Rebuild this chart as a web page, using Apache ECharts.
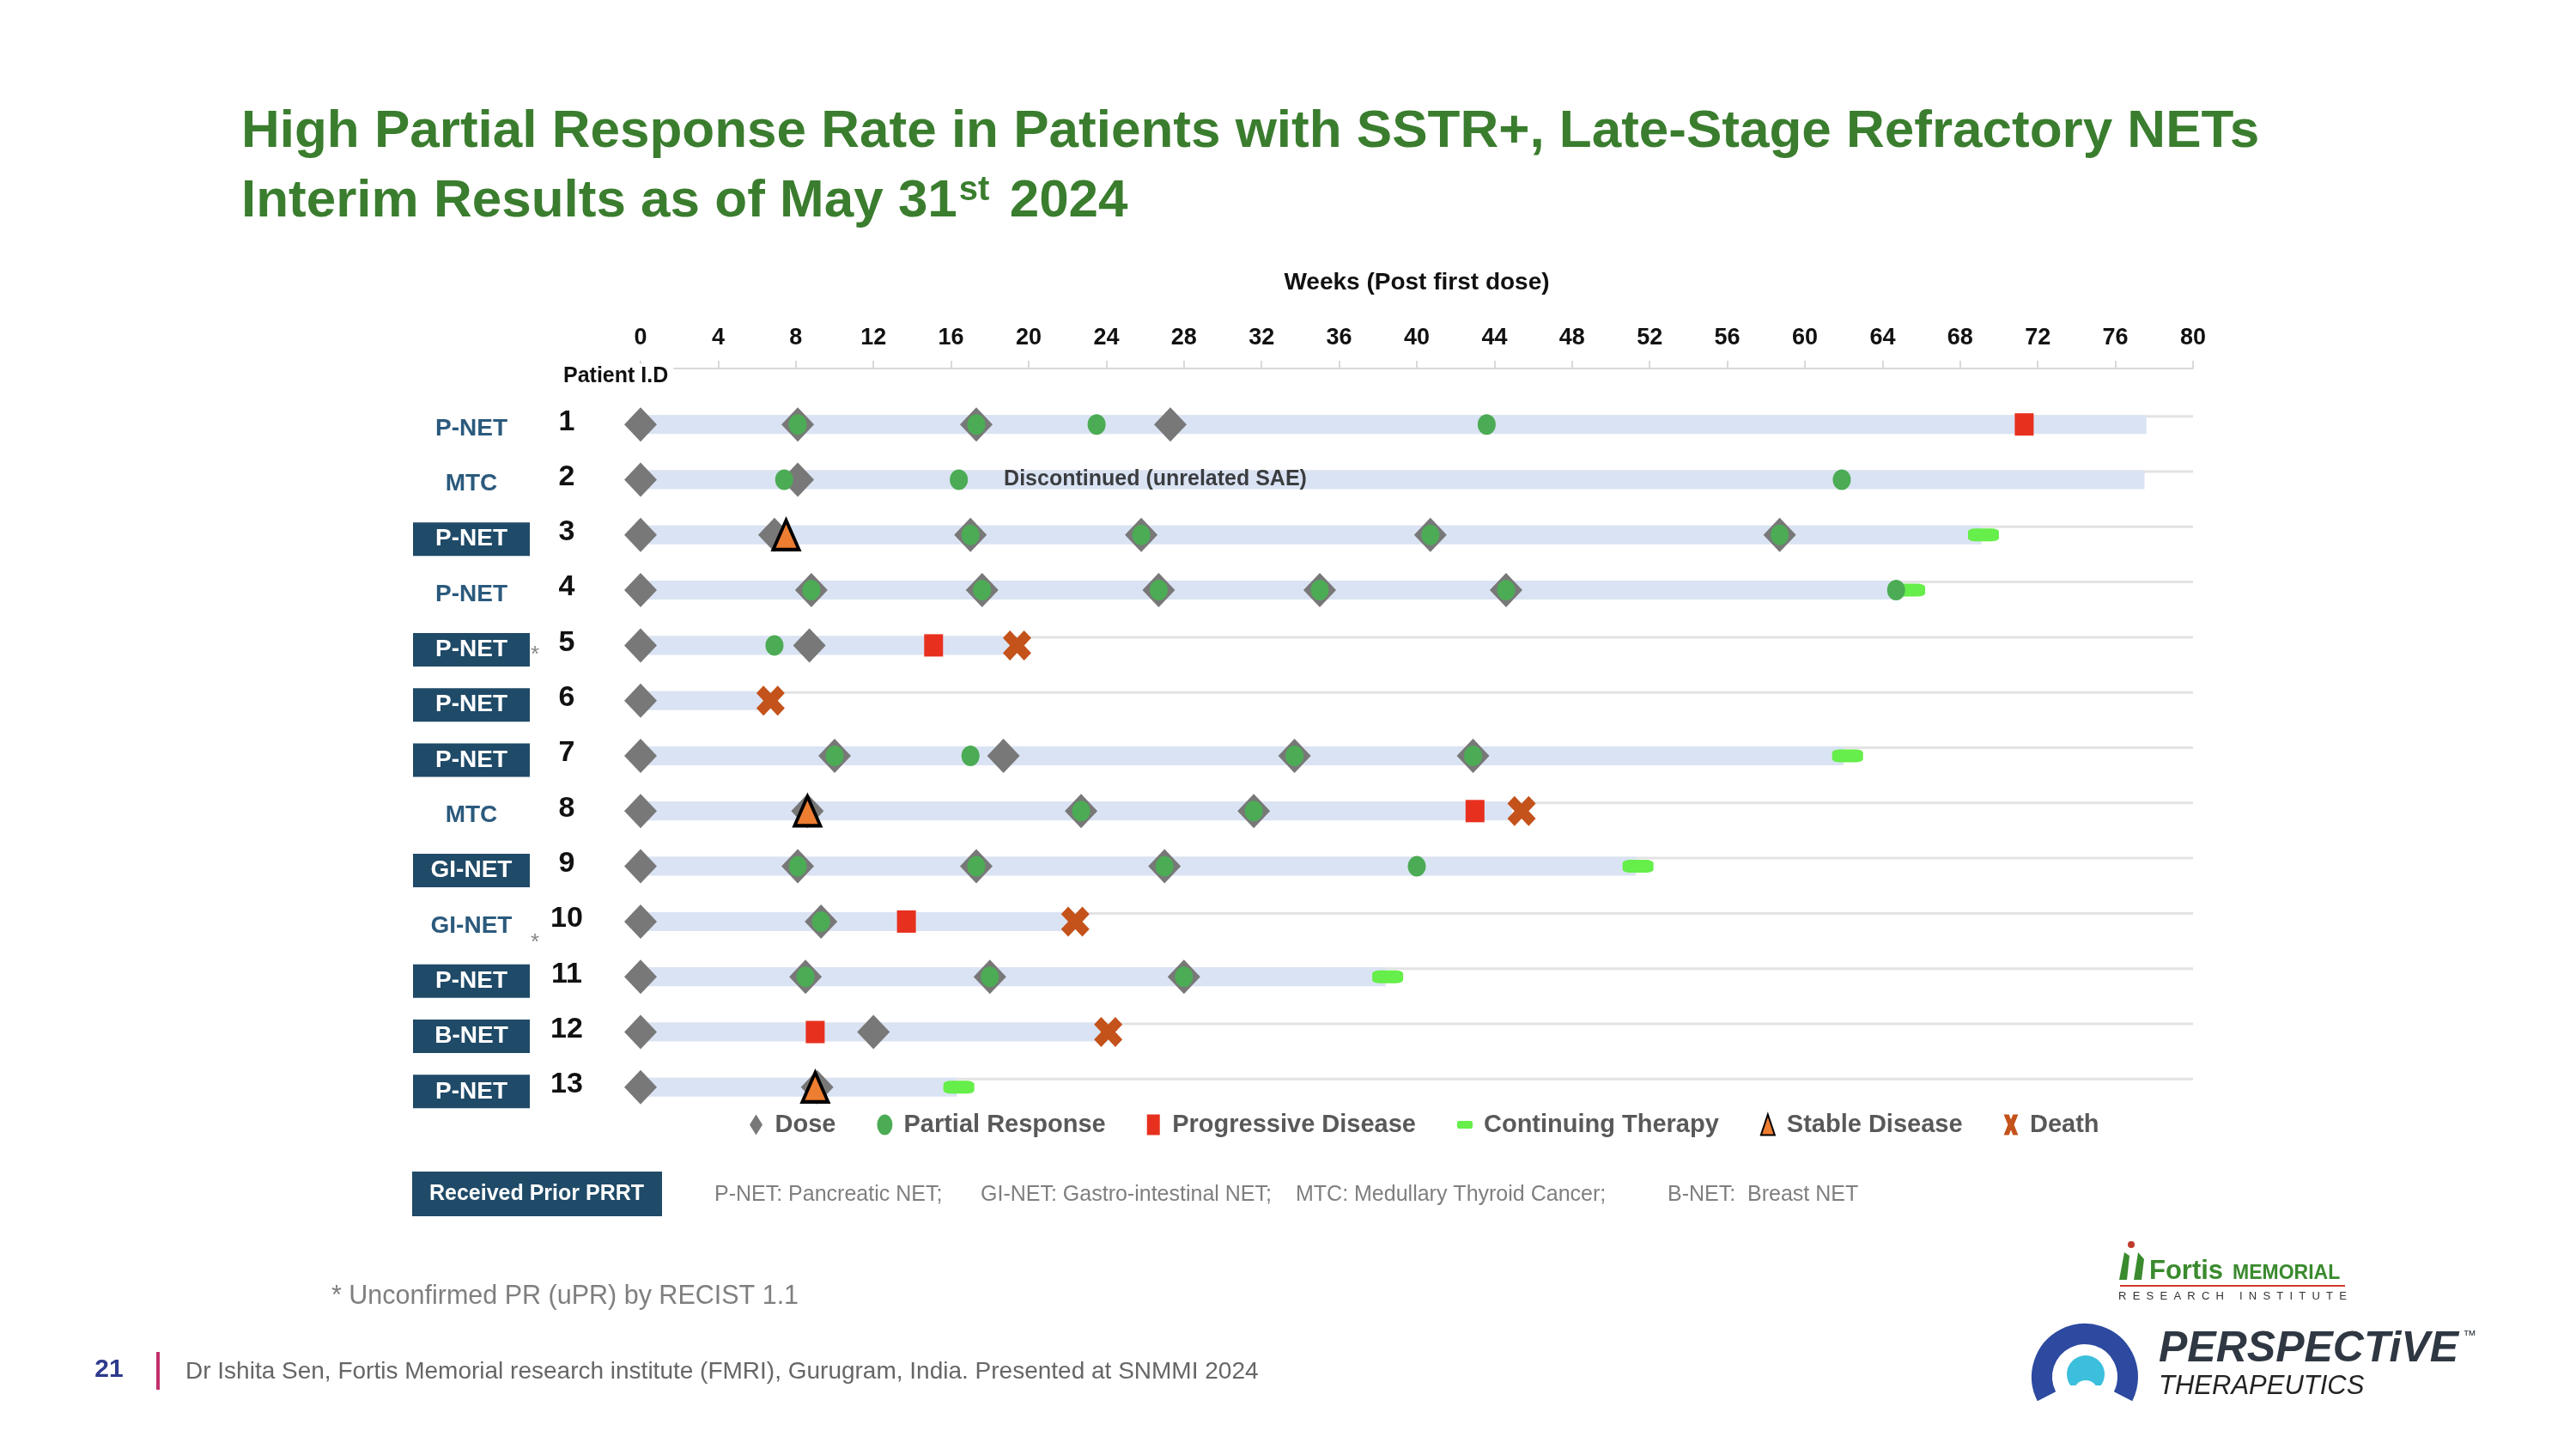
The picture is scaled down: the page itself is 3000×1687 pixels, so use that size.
<!DOCTYPE html>
<html><head><meta charset="utf-8">
<script src="https://cdn.jsdelivr.net/npm/echarts@6/dist/echarts.min.js"></script>
<style>html,body{margin:0;padding:0;background:#fff}#c{width:3000px;height:1687px}</style>
</head><body><div id="c"></div>
<script>
// ---------- data ----------
const patientIds = ['1','2','3','4','5','6','7','8','9','10','11','12','13'];
const tumorTypes = ['P-NET','MTC','P-NET','P-NET','P-NET','P-NET','P-NET','MTC','GI-NET','GI-NET','P-NET','B-NET','P-NET'];
const priorPRRT = [false,false,true,false,true,true,true,false,true,false,true,true,true];
const unconfirmedPR = [false,false,false,false,true,false,false,false,false,true,false,false,false];
const weeksOnStudy = [77.6,77.5,69.1,64.8,19.2,6.7,62.0,44.9,51.3,22.4,38.4,24.1,16.3];
const doseWeeks = [[0,8.1,17.3,27.3],[0,8.1],[0,6.9,17.0,25.8,40.7,58.7],[0,8.8,17.6,26.7,35.0,44.6],[0,8.7],[0],[0,10.0,18.7,33.7,42.9],[0,8.6,22.7,31.6],[0,8.1,17.3,27.0],[0,9.3],[0,8.5,18.0,28.0],[0,12.0],[0,9.1]];
const partialResponseWeeks = [[8.1,17.3,23.5,43.6],[7.4,16.4,61.9],[17.0,25.8,40.7,58.7],[8.8,17.6,26.7,35.0,44.6,64.7],[6.9],[],[10.0,17.0,33.7,42.9],[22.7,31.6],[8.1,17.3,27.0,40.0],[9.3],[8.5,18.0,28.0],[],[]];
const progressiveDiseaseWeeks = [[71.3],[],[],[],[15.1],[],[],[43.0],[],[13.7],[],[9.0],[]];
const continuingTherapyWeeks = [[],[],[69.2],[65.4],[],[],[62.2],[],[51.4],[],[38.5],[],[16.4]];
const stableDiseaseWeeks = [[],[],[7.5],[],[],[],[],[8.6],[],[],[],[],[9.0]];
const deathWeeks = [[],[],[],[],[19.4],[6.7],[],[45.4],[],[22.4],[],[24.1],[]];
const annotations = [{row:1, week:18.7, text:'Discontinued (unrelated SAE)'}];
const axisMin = 0, axisMax = 80, axisStep = 4;

// ---------- helpers ----------
const toPoints = arr => arr.flatMap((ws, i) => ws.map(w => [w, i]));
const FONT = 'Liberation Sans, Arial, sans-serif';
const DEATH_PATH = 'path://M25,0 L50,25 L75,0 L100,25 L75,50 L100,75 L75,100 L50,75 L25,100 L0,75 L25,50 L0,25 Z';

const chart = echarts.init(document.getElementById('c'), null, {renderer:'canvas'});

const option = {
  backgroundColor: '#ffffff',
  animation: false,
  textStyle: {fontFamily: FONT},
  title: {
    left: 281, top: 113, padding: 0,
    text: '{t|High Partial Response Rate in Patients with SSTR+, Late-Stage Refractory NETs}\n{t|Interim Results as of May 31}{sup|st}{t| }{y|2024}',
    textStyle: {
      rich: {
        t: {fontSize: 62, fontWeight: 'bold', color: '#3a7d2e', fontFamily: FONT, lineHeight: 81},
        y: {fontSize: 62, fontWeight: 'bold', color: '#3a7d2e', fontFamily: FONT, lineHeight: 81, padding: [0,0,0,6]},
        sup: {fontSize: 40, fontWeight: 'bold', color: '#3a7d2e', fontFamily: FONT, lineHeight: 81, padding: [0,0,26,2]}
      }
    }
  },
  grid: {left: 746, right: 446, top: 462, height: 836, containLabel: false},
  xAxis: {
    type: 'value', position: 'top', offset: 33,
    min: axisMin, max: axisMax, interval: axisStep,
    name: 'Weeks (Post first dose)', nameLocation: 'middle', nameGap: 86,
    nameTextStyle: {fontSize: 28, fontWeight: 'bold', color: '#111', fontFamily: FONT},
    axisLine: {show: true, lineStyle: {color: '#d9d9d9', width: 2}},
    axisTick: {show: true, length: 9, lineStyle: {color: '#d9d9d9', width: 2}},
    axisLabel: {fontSize: 27, fontWeight: 'bold', color: '#111', margin: 22, fontFamily: FONT},
    splitLine: {show: false}
  },
  yAxis: {
    type: 'category', data: patientIds, inverse: true, boundaryGap: true,
    axisLine: {show: false}, axisTick: {show: false}, splitLine: {show: false},
    axisLabel: {
      margin: 55,
      padding: [10,0,0,0],
      formatter: (v, i) => {
        const box = priorPRRT[i] ? 'box' : 'plain';
        const star = unconfirmedPR[i] ? (i === 4 ? '{starA|*}' : '{starB|*}') : '{gap| }';
        return '{' + box + '|' + tumorTypes[i] + '}' + star + '{num|' + v + '}';
      },
      rich: {
        box: {width: 136, height: 39, lineHeight: 39, backgroundColor: '#1f4a68', color: '#ffffff', fontSize: 28, fontWeight: 'bold', align: 'center', fontFamily: FONT},
        plain: {width: 136, height: 39, lineHeight: 39, color: '#2b5a7d', fontSize: 28, fontWeight: 'bold', align: 'center', fontFamily: FONT},
        gap: {width: 12, fontSize: 20},
        starA: {width: 12, fontSize: 26, color: '#888', align: 'left', padding: [12,0,0,0], fontFamily: FONT},
        starB: {width: 12, fontSize: 26, color: '#888', align: 'center', padding: [40,0,0,0], fontFamily: FONT},
        num: {width: 62, fontSize: 34, fontWeight: 'bold', color: '#111', align: 'left', padding: [0,0,16,0], fontFamily: FONT}
      }
    }
  },
  legend: {
    data: [
      {name: 'Dose', icon: 'path://M5,0 L10,8 L5,16 L0,8 Z'},
      {name: 'Partial Response', icon: 'path://M10,0 A9,12 0 1,1 9.99,0 Z'},
      {name: 'Progressive Disease', icon: 'path://M0,0 H10 V16 H0 Z'},
      {name: 'Continuing Therapy', icon: 'path://M3,0 H21 A3,3 0 0 1 24,3 V9 A3,3 0 0 1 21,12 H3 A3,3 0 0 1 0,9 V3 A3,3 0 0 1 3,0 Z'},
      {name: 'Stable Disease', icon: 'path://M6,0 L12,18 L0,18 Z'},
      {name: 'Death', icon: 'path://M0,0 H5 L7,5 L9,0 H14 L10,10 L14,20 H9 L7,15 L5,20 H0 L4,10 Z'}
    ],
    left: 868, top: 1290, itemWidth: 18, itemHeight: 24, itemGap: 48,
    selectedMode: false,
    textStyle: {fontSize: 29, fontWeight: 'bold', color: '#595959', fontFamily: FONT, padding: [0,0,0,8]}
  },
  series: [
    {
      name: 'track', type: 'bar', data: patientIds.map(() => axisMax), barWidth: 3, barGap: '-100%',
      itemStyle: {color: '#e3e3e3'}, z: 1, silent: true
    },
    {
      name: 'On study', type: 'bar', data: weeksOnStudy, barWidth: 22, barGap: '-100%',
      itemStyle: {color: '#dae3f3'}, z: 2, silent: true
    },
    {
      name: 'Dose', type: 'scatter', data: toPoints(doseWeeks), symbol: 'diamond', symbolSize: [38, 40],
      itemStyle: {color: '#787878', opacity: 1}, z: 3
    },
    {
      name: 'Continuing Therapy', type: 'scatter', data: toPoints(continuingTherapyWeeks), symbol: 'roundRect', symbolSize: [36, 15],
      itemStyle: {color: '#66ee4a', opacity: 1}, z: 3
    },
    {
      name: 'Partial Response', type: 'scatter', data: toPoints(partialResponseWeeks), symbol: 'circle', symbolSize: [21, 24],
      itemStyle: {color: '#4cab55', opacity: 1}, z: 4
    },
    {
      name: 'Progressive Disease', type: 'scatter', data: toPoints(progressiveDiseaseWeeks), symbol: 'rect', symbolSize: [22, 26],
      itemStyle: {color: '#e8301f', opacity: 1}, z: 4
    },
    {
      name: 'Stable Disease', type: 'scatter', data: toPoints(stableDiseaseWeeks), symbol: 'triangle', symbolSize: [30, 34],
      itemStyle: {color: '#ed7d31', borderColor: '#000', borderWidth: 4, opacity: 1}, z: 5
    },
    {
      name: 'Death', type: 'scatter', data: toPoints(deathWeeks), symbol: DEATH_PATH, symbolSize: [33, 35],
      itemStyle: {color: '#c4521b', opacity: 1}, z: 5
    },
    {
      name: 'annotation', type: 'scatter', data: annotations.map(a => ({value: [a.week, a.row], label: {formatter: a.text}})),
      symbolSize: 1, itemStyle: {color: 'rgba(0,0,0,0)'}, z: 6, silent: true,
      label: {show: true, position: 'right', distance: 0, fontSize: 25, fontWeight: 'bold', color: '#111', fontFamily: FONT}
    }
  ],
  graphic: [
    {type: 'text', z: 100, x: 656, y: 438, style: {text: 'Patient I.D', font: 'bold 25px ' + FONT, fill: '#111', textAlign: 'left', textVerticalAlign: 'middle', backgroundColor: '#ffffff', padding: [2,6,2,0]}},
    {type: 'rect', shape: {x: 480, y: 1364, width: 291, height: 52}, style: {fill: '#1f4a68'}},
    {type: 'text', x: 625, y: 1390, style: {text: 'Received Prior PRRT', font: 'bold 25px ' + FONT, fill: '#ffffff', textAlign: 'center', textVerticalAlign: 'middle'}},
    {type: 'text', x: 832, y: 1391, style: {text: 'P-NET: Pancreatic NET;', font: '25px ' + FONT, fill: '#7f7f7f', textVerticalAlign: 'middle'}},
    {type: 'text', x: 1142, y: 1391, style: {text: 'GI-NET: Gastro-intestinal NET;', font: '25px ' + FONT, fill: '#7f7f7f', textVerticalAlign: 'middle'}},
    {type: 'text', x: 1509, y: 1391, style: {text: 'MTC: Medullary Thyroid Cancer;', font: '25px ' + FONT, fill: '#7f7f7f', textVerticalAlign: 'middle'}},
    {type: 'text', x: 1942, y: 1391, style: {text: 'B-NET:  Breast NET', font: '25px ' + FONT, fill: '#7f7f7f', textVerticalAlign: 'middle'}},
    {type: 'text', x: 386, y: 1510, style: {text: '* Unconfirmed PR (uPR) by RECIST 1.1', font: '30.5px ' + FONT, fill: '#7f7f7f', textVerticalAlign: 'middle'}},
    {type: 'text', x: 127, y: 1595, style: {text: '21', font: 'bold 30px ' + FONT, fill: '#2e3a8c', textAlign: 'center', textVerticalAlign: 'middle'}},
    {type: 'rect', shape: {x: 182, y: 1574, width: 4, height: 44}, style: {fill: '#c2306c'}},
    {type: 'text', x: 216, y: 1597, style: {text: 'Dr Ishita Sen, Fortis Memorial research institute (FMRI), Gurugram, India. Presented at SNMMI 2024', font: '28px ' + FONT, fill: '#666666', textVerticalAlign: 'middle'}},
    // Fortis logo
    {type: 'circle', shape: {cx: 2482, cy: 1449, r: 4}, style: {fill: '#c0392b'}},
    {type: 'polygon', shape: {points: [[2468,1490],[2474,1458],[2480,1462],[2477,1490]]}, style: {fill: '#3a8a2e'}},
    {type: 'polygon', shape: {points: [[2485,1490],[2490,1458],[2497,1466],[2494,1490]]}, style: {fill: '#3a8a2e'}},
    {type: 'text', x: 2503, y: 1480, style: {text: 'Fortis', font: 'bold 31px ' + FONT, fill: '#3a8a2e', textVerticalAlign: 'middle'}},
    {type: 'text', x: 2600, y: 1483, style: {text: 'MEMORIAL', font: 'bold 23px ' + FONT, fill: '#3a8a2e', textVerticalAlign: 'middle'}},
    {type: 'rect', shape: {x: 2469, y: 1496, width: 262, height: 2}, style: {fill: '#d0392b'}},
    {type: 'text', x: 2600, y: 1509, style: {text: 'R  E  S  E  A  R  C  H     I  N  S  T  I  T  U  T  E', font: '13px ' + FONT, fill: '#333', textAlign: 'center', textVerticalAlign: 'middle'}},
    // Perspective logo
    {type: 'arc', shape: {cx: 2428, cy: 1603, r: 50, startAngle: Math.PI * 0.85, endAngle: Math.PI * 2.15, clockwise: true}, style: {stroke: '#2d4aa0', lineWidth: 24, fill: null}},
    {type: 'circle', shape: {cx: 2429, cy: 1600, r: 22}, style: {fill: '#3bbfdc'}},
    {type: 'circle', shape: {cx: 2429, cy: 1621, r: 14}, style: {fill: '#ffffff'}},
    {type: 'rect', shape: {x: 2400, y: 1613, width: 58, height: 30}, style: {fill: '#ffffff'}},
    {type: 'text', x: 2514, y: 1571, style: {text: 'PERSPECTiVE', font: 'italic bold 50px ' + FONT, fill: '#2f3742', textVerticalAlign: 'middle'}},
    {type: 'text', x: 2868, y: 1556, style: {text: '™', font: '16px ' + FONT, fill: '#2f3742', textVerticalAlign: 'middle'}},
    {type: 'text', x: 2514, y: 1614, style: {text: 'THERAPEUTICS', font: 'italic 31px ' + FONT, fill: '#222', textVerticalAlign: 'middle'}}
  ]
};
chart.setOption(option);
</script></body></html>
